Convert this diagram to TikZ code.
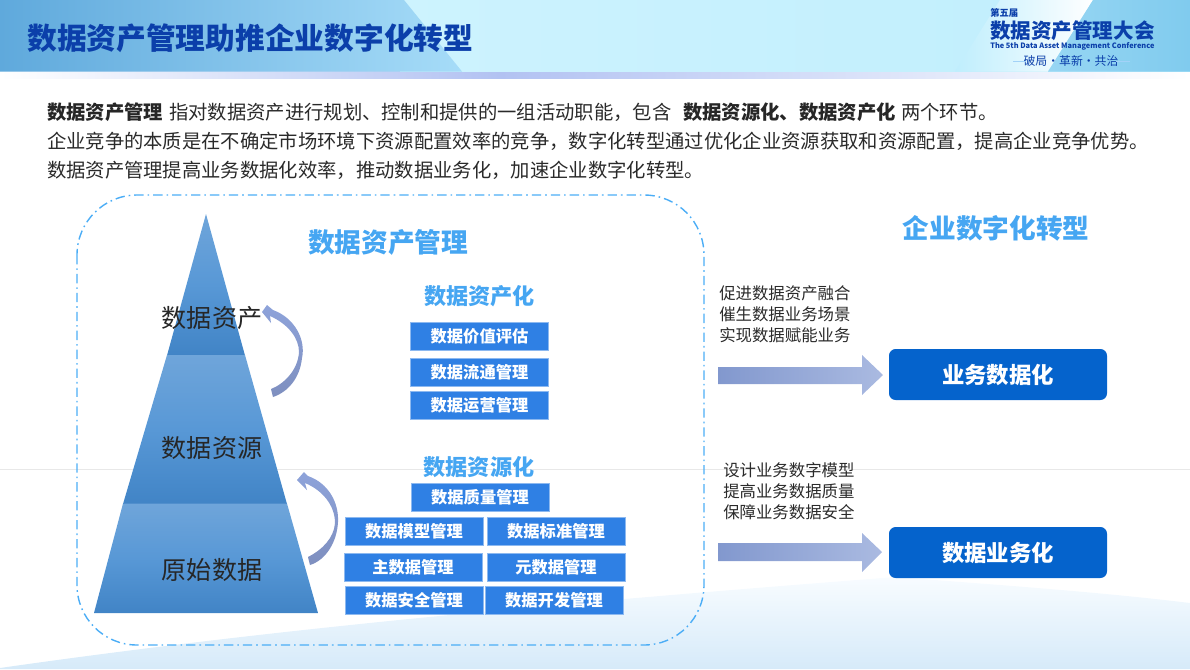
\documentclass[tikz,border=0pt]{standalone}
\usepackage{fontspec}
\setmainfont{Noto Sans CJK SC}
\definecolor{titleblue}{HTML}{0B3FAA}
\definecolor{headblue}{HTML}{46A6F2}
\definecolor{boxblue}{HTML}{2F80E4}
\definecolor{deepblue}{HTML}{0563CC}
\definecolor{bodyink}{HTML}{2A2A2A}
\definecolor{dashblue}{HTML}{4BADF6}
\definecolor{arrowa}{HTML}{8298CE}
\definecolor{arrowb}{HTML}{AABAE1}
\definecolor{pyrtop}{HTML}{6FA5DA}
\definecolor{pyrmid}{HTML}{5898D6}
\definecolor{pyrbot}{HTML}{4184C6}
\definecolor{arrowc}{HTML}{8EA3DA}
\definecolor{arrowd}{HTML}{7E8FBF}
\definecolor{headl}{HTML}{5FA9DC}
\definecolor{headm}{HTML}{A6DCF8}
\definecolor{headc}{HTML}{CDF3FE}
\definecolor{headd}{HTML}{BFEEFD}
\definecolor{headr}{HTML}{97D6F3}
\definecolor{headq}{HTML}{80CBEE}
\definecolor{bandc}{HTML}{B2C2F2}
\definecolor{wavet}{HTML}{F8FCFF}
\definecolor{waveb}{HTML}{D6EAF9}
\tikzset{
  txt/.style={inner sep=0pt,outer sep=0pt,text=bodyink,font=\fontsize{14.5}{14.5}\selectfont,anchor=west},
  txtb/.style={txt,font=\fontsize{14.5}{14.5}\selectfont\bfseries,text=black!85},
  pyrlabel/.style={inner sep=0pt,text=black!85,font=\fontsize{18.8}{18.8}\selectfont},
  sidetxt/.style={inner sep=0pt,anchor=west,text=bodyink,font=\fontsize{12.3}{12.3}\selectfont},
  heading/.style={inner sep=0pt,text=headblue,font=\fontsize{20}{20}\selectfont\bfseries},
  subhead/.style={inner sep=0pt,text=headblue,font=\fontsize{16.6}{16.6}\selectfont\bfseries},
  smallbox/.style={draw=boxblue!55!white,line width=0.5pt,fill=boxblue,text=white,inner sep=0pt,
    font=\fontsize{12.2}{12.2}\selectfont\bfseries,minimum width=103.5pt,minimum height=21pt},
  bigbox/.style={draw=none,fill=deepblue,rounded corners=5pt,text=white,inner sep=0pt,
    font=\fontsize{16.8}{16.8}\selectfont\bfseries,minimum width=163.5pt,minimum height=38.25pt},
  pyrshade/.style={top color=pyrtop,bottom color=pyrbot,middle color=pyrmid},
  curveshade/.style={top color=arrowc,bottom color=arrowd},
  blockshade/.style={left color=arrowa,right color=arrowb},
  logotxt/.style={inner sep=0pt,anchor=west,text=titleblue},
}
\begin{document}
\begin{tikzpicture}[x=0.75pt,y=-0.75pt]
\useasboundingbox (0,0) rectangle (1190,669);
% bottom wave
\shade[top color=wavet,bottom color=waveb] (0,669) -- (0,668) .. controls (300,625) and (600,600) .. (895,577) .. controls (1000,585) and (1100,592) .. (1190,603) -- (1190,669) -- cycle;
% guide line
\draw[color=black!9,line width=0.6pt] (0,469) -- (1190,469);
% header
\shade[left color=white,right color=bandc] (0,71) rectangle (500,78);
\shade[left color=bandc,right color=white] (500,71) rectangle (1190,78);
\shade[left color=headc,right color=headd] (400,0) rectangle (1190,71.5);
\shade[left color=headl,right color=headm] (0,0) -- (404,0) -- (462,71.5) -- (0,71.5) -- cycle;
\shade[left color=headd,right color=white] (1000,0) -- (1093,0) -- (1048,71.5) -- (955,71.5) -- cycle;
\shade[left color=headr,right color=headq] (1093,0) -- (1190,0) -- (1190,71.5) -- (1048,71.5) -- cycle;
\node[inner sep=0pt,anchor=west,text=titleblue,font=\fontsize{22.3}{22.3}\selectfont\bfseries] (title) at (27,38) {数据资产管理助推企业数字化转型};
% logo
\node[logotxt,font=\fontsize{7}{7}\selectfont\bfseries] (logoa) at (990,13) {第五届};
\node[logotxt,font=\fontsize{15.4}{15.4}\selectfont\bfseries] (logob) at (990,31) {数据资产管理大会};
\node[logotxt,font=\fontsize{5.55}{5.55}\selectfont\bfseries] (logoc) at (990,46) {The 5th Data Asset Management Conference};
\node[inner sep=0pt,text=titleblue,font=\fontsize{8.9}{8.9}\selectfont] (logod) at (1071,61) {破局·革新·共治};
\draw[color=headblue!50!white,line width=0.5pt] (1013,61) -- (1026,61);
\draw[color=headblue!50!white,line width=0.5pt] (1116,61) -- (1130,61);
% intro
\node[txtb] (ia) at (47,112) {数据资产管理};
\node[txt] (ib) at (169,112) {指对数据资产进行规划、控制和提供的一组活动职能，包含};
\node[txtb] (ic) at (683,112) {数据资源化、数据资产化};
\node[txt] (id) at (901,112) {两个环节。};
\node[txt] (ie) at (47,141) {企业竞争的本质是在不确定市场环境下资源配置效率的竞争，数字化转型通过优化企业资源获取和资源配置，提高企业竞争优势。};
\node[txt] (if) at (47,170) {数据资产管理提高业务数据化效率，推动数据业务化，加速企业数字化转型。};
% dashed frame
\draw[color=dashblue,line width=1.05pt,rounded corners=45pt,dash pattern=on 7pt off 3pt on 1.2pt off 3pt] (77,195) rectangle (704,645);
% pyramid
\shade[pyrshade] (206,214) -- (245,355.5) -- (167,355.5) -- cycle;
\shade[pyrshade] (167,355) -- (245,355) -- (287,504) -- (123,504) -- cycle;
\shade[pyrshade] (123,503.5) -- (287,503.5) -- (318,613) -- (94,613) -- cycle;
% curved arrows
\shade[curveshade] (262,312) -- (267,305) -- (273,310) .. controls (295,318) and (306,340) .. (302,358) .. controls (300,378) and (288,392) .. (273,397) -- (271,389) .. controls (284,384) and (298,370) .. (299,352) .. controls (299,338) and (288,324) .. (270,316) -- (271,323) -- cycle;
\shade[curveshade] (297,480) -- (304,472) -- (308,476) .. controls (328,483) and (339,502) .. (338,522) .. controls (337,542) and (326,560) .. (310,565) -- (308,557) .. controls (322,550) and (334,538) .. (335,523) .. controls (335,505) and (322,490) .. (305,483) -- (307,490) -- cycle;
% pyramid labels
\node[pyrlabel] (pa) at (212,318) {数据资产};
\node[pyrlabel] (pb) at (212,448) {数据资源};
\node[pyrlabel] (pc) at (212,570) {原始数据};
% headings
\node[heading] (h1) at (388,242) {数据资产管理};
\node[heading] (h2) at (996,228) {企业数字化转型};
\node[subhead] (s1) at (479.5,296) {数据资产化};
\node[subhead] (s2) at (479,467) {数据资源化};
% boxes
\node[smallbox] (b1) at (479.5,336.5) {数据价值评估};
\node[smallbox] (b2) at (479.5,372) {数据流通管理};
\node[smallbox] (b3) at (479.5,405) {数据运营管理};
\node[smallbox] (c1) at (480,497) {数据质量管理};
\node[smallbox] (c2) at (414,531.5) {数据模型管理};
\node[smallbox] (c3) at (556,531.5) {数据标准管理};
\node[smallbox] (c4) at (413,567) {主数据管理};
\node[smallbox] (c5) at (556,567) {元数据管理};
\node[smallbox] (c6) at (414,600) {数据安全管理};
\node[smallbox] (c7) at (554,600) {数据开发管理};
% side text
\node[sidetxt] (t1) at (719,293) {促进数据资产融合};
\node[sidetxt] (t2) at (719,314) {催生数据业务场景};
\node[sidetxt] (t3) at (719,335) {实现数据赋能业务};
\node[sidetxt] (t4) at (723,470) {设计业务数字模型};
\node[sidetxt] (t5) at (723,491) {提高业务数据质量};
\node[sidetxt] (t6) at (723,512) {保障业务数据安全};
% block arrows
\shade[blockshade] (718,367) -- (862,367) -- (862,355) -- (883,375) -- (862,395) -- (862,384) -- (718,384) -- cycle;
\shade[blockshade] (718,543) -- (862,543) -- (862,533) -- (882,552) -- (862,572) -- (862,561) -- (718,561) -- cycle;
% big boxes
\node[bigbox] (d1) at (998,374.5) {业务数据化};
\node[bigbox] (d2) at (998,552.5) {数据业务化};
\end{tikzpicture}
\end{document}
